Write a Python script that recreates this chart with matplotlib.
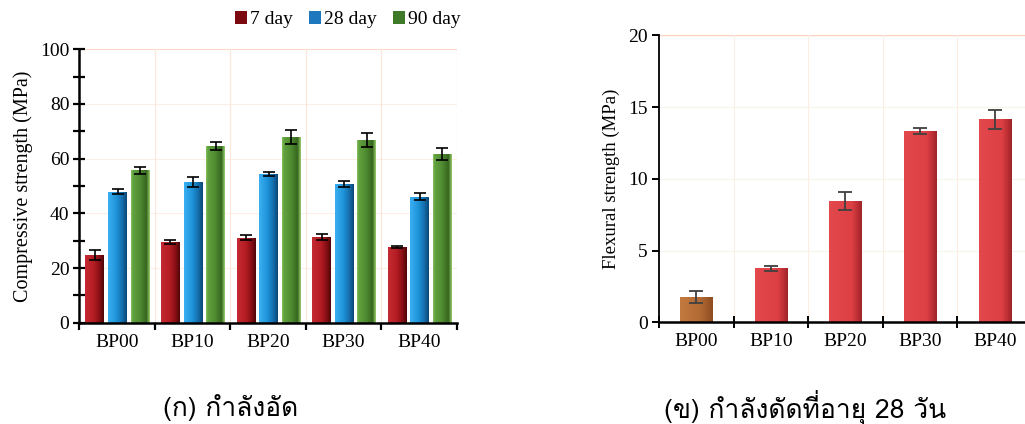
import numpy as np
import matplotlib
matplotlib.use("Agg")
import matplotlib.pyplot as plt
from matplotlib import font_manager
from matplotlib.ft2font import FT2Font
from matplotlib.colors import LinearSegmentedColormap
from matplotlib.patches import Patch

# ---- data -------------------------------------------------------------
mixes = ["BP00", "BP10", "BP20", "BP30", "BP40"]
ages = ["7 day", "28 day", "90 day"]

comp_7 = [24.8, 29.4, 31.1, 31.3, 27.7]
comp_7_err = [1.7, 0.7, 0.8, 1.0, 0.2]
comp_28 = [47.9, 51.6, 54.3, 50.7, 46.1]
comp_28_err = [1.0, 1.8, 0.7, 1.2, 1.2]
comp_90 = [55.8, 64.6, 67.8, 66.9, 61.7]
comp_90_err = [1.3, 1.6, 2.6, 2.6, 2.2]

flex_28 = [1.74, 3.76, 8.45, 13.33, 14.15]
flex_28_err = [0.42, 0.18, 0.65, 0.19, 0.65]

caption_a = "(ก) กำลังอัด"
caption_b = "(ข) กำลังดัดที่อายุ 28 วัน"

# ---- fonts ------------------------------------------------------------
plt.rcParams["font.family"] = ["Liberation Serif", "DejaVu Serif"]


def thai_families():
    found = []
    for f in font_manager.fontManager.ttflist:
        if f.name in found:
            continue
        try:
            cmap = FT2Font(f.fname).get_charmap()
        except Exception:
            continue
        if 0x0E01 in cmap and 0x0E33 in cmap:
            found.append(f.name)
    return found


thai = thai_families()
caption_family = thai[:1] + ["Liberation Serif", "DejaVu Sans"]

# ---- helpers ----------------------------------------------------------
def shade(ax, bars, stops):
    cmap = LinearSegmentedColormap.from_list("shade", stops)
    grad = np.linspace(0, 1, 128).reshape(1, -1)
    for b in bars:
        x, y, w, h = b.get_x(), b.get_y(), b.get_width(), b.get_height()
        im = ax.imshow(grad, extent=[x, x + w, y, y + h], cmap=cmap,
                       aspect="auto", origin="lower", zorder=b.get_zorder(),
                       interpolation="bilinear")
        im.set_clip_path(b)


fig = plt.figure(figsize=(10.25, 4.24), dpi=100)

# ---- (a) compressive strength ----------------------------------------
ax1 = fig.add_axes([0.0771, 0.2389, 0.3685, 0.6448])
x = np.arange(len(mixes))
w = 0.25
series = [
    (comp_7, comp_7_err, -0.29,
     [(0.0, "#c42a31"), (0.45, "#b51d24"), (0.75, "#8a1015"), (1.0, "#4e0508")],
     "#7a0a0f"),
    (comp_28, comp_28_err, 0.01,
     [(0.0, "#3ab0f2"), (0.45, "#1e93d8"), (0.75, "#156fae"), (1.0, "#0b4674")],
     "#1d78bd"),
    (comp_90, comp_90_err, 0.31,
     [(0.0, "#86c45e"), (0.1, "#62a13f"), (0.5, "#4e8a30"), (0.82, "#36651f"), (1.0, "#9bd070")],
     "#3e7a28"),
]
handles = []
for vals, errs, off, stops, lcol in series:
    bars = ax1.bar(x + off, vals, w, color="none", edgecolor="none", zorder=2)
    shade(ax1, bars, stops)
    ax1.errorbar(x + off, vals, yerr=errs, fmt="none", ecolor="black",
                 elinewidth=1.2, capsize=4, capthick=1.2, zorder=4)
    handles.append(Patch(facecolor=lcol, edgecolor="none"))

ax1.set_xlim(-0.5, 4.5)
ax1.set_ylim(0, 100)
ax1.set_yticks(np.arange(0, 101, 20))
ax1.set_yticks(np.arange(10, 100, 20), minor=True)
ax1.set_xticks(np.arange(-0.5, 5.0, 1.0))
ax1.set_xticklabels([])
ax1.set_xticks(x, minor=True)
ax1.set_xticklabels(mixes, minor=True, fontsize=14)
ax1.tick_params(axis="x", which="major", direction="out", length=5, width=1.6)
ax1.tick_params(axis="x", which="minor", length=0, pad=8)
ax1.tick_params(axis="y", which="both", direction="inout", length=8, width=1.6,
                labelsize=14, pad=3)
for s in ["top", "right"]:
    ax1.spines[s].set_visible(False)
for s in ["left", "bottom"]:
    ax1.spines[s].set_linewidth(1.8)
for v in np.arange(20, 101, 20):
    ax1.axhline(v, color="#fdefe6" if v < 100 else "#fbd9c6", lw=0.8, zorder=0)
for v in np.arange(0.5, 5.0, 1.0):
    ax1.axvline(v, color="#fde7da", lw=0.8, zorder=0)
ax1.set_ylabel("Compressive strength (MPa)", fontsize=14.5, labelpad=5)

fig.legend(handles, ages, loc="center", bbox_to_anchor=(0.3395, 0.953), ncol=3,
           frameon=False, fontsize=14, handlelength=0.6, handleheight=0.6,
           handletextpad=0.15, columnspacing=0.85, borderaxespad=0)

# ---- (b) flexural strength -------------------------------------------
ax2 = fig.add_axes([0.6429, 0.2399, 0.3639, 0.6769])
bar_stops = [
    [(0.0, "#c27a40"), (0.6, "#b36b35"), (1.0, "#8d4c20")],
] + [[(0.0, "#e3484c"), (0.7, "#dc3f44"), (0.85, "#bf3035"), (1.0, "#9e2529")]] * 4
bars = ax2.bar(x, flex_28, 0.43, color="none", edgecolor="none", zorder=2)
for b, stops in zip(bars, bar_stops):
    shade(ax2, [b], stops)
ax2.errorbar(x, flex_28, yerr=flex_28_err, fmt="none", ecolor="#404040",
             elinewidth=1.3, capsize=5, capthick=1.3, zorder=4)

ax2.set_xlim(-0.5, 4.5)
ax2.set_ylim(0, 20)
ax2.set_yticks(np.arange(0, 21, 5))
ax2.set_xticks(np.arange(-0.5, 5.0, 1.0))
ax2.set_xticklabels([])
ax2.set_xticks(x, minor=True)
ax2.set_xticklabels(mixes, minor=True, fontsize=14)
ax2.tick_params(axis="x", which="major", direction="inout", length=8, width=1.4)
ax2.tick_params(axis="x", which="minor", length=0, pad=8)
ax2.tick_params(axis="y", direction="out", length=5, width=1.4, labelsize=14, pad=3)
for s in ["top", "right"]:
    ax2.spines[s].set_visible(False)
ax2.spines["left"].set_linewidth(1.3)
ax2.spines["bottom"].set_linewidth(1.8)
for v in [5, 10, 15]:
    ax2.axhline(v, color="#f8f4ec", lw=0.8, zorder=0)
ax2.axhline(20, color="#fbd2bc", lw=1.0, zorder=0)
for v in np.arange(0.5, 5.0, 1.0):
    ax2.axvline(v, color="#fdede3", lw=0.8, zorder=0)
ax2.set_ylabel("Flexural strength (MPa)", fontsize=13.5, labelpad=6)

# ---- captions ---------------------------------------------------------
fig.text(0.225, 0.04, caption_a, ha="center", va="center", fontsize=19,
         family=caption_family)
fig.text(0.7855, 0.04, caption_b, ha="center", va="center", fontsize=19,
         family=caption_family)

fig.savefig("out.png", dpi=100)
